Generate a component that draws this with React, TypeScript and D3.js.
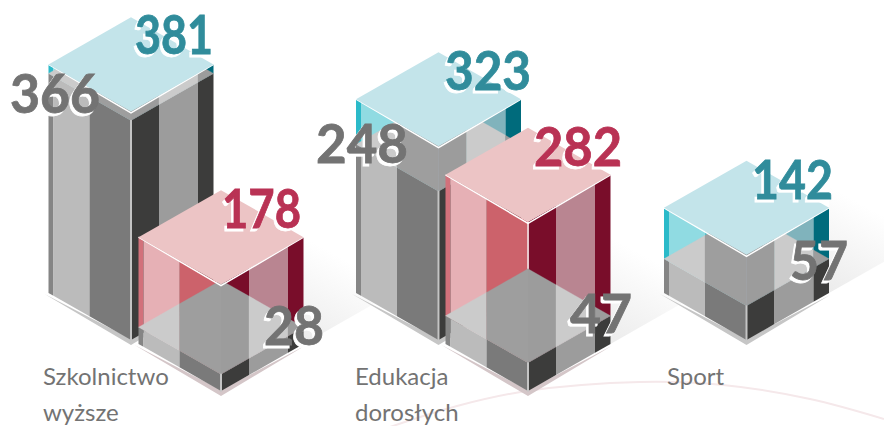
import React from "react";
import * as d3 from "d3";

// ---- data ----
const categories = [["Szkolnictwo", "wyższe"], ["Edukacja", "dorosłych"], ["Sport"]];
const grayBack = [366, 248, 57];
const tealBack = [381, 323, 142];
const grayFront = [28, 47];
const redFront = [178, 282];
const arcPath: [number, number][] = [[390, 427], [457, 406], [527, 391], [640, 382], [723, 385], [810, 399], [884, 419]];

// ---- layout ----
const W = 884, H = 426;
const w = 82.5, k = 0.57;
const backX = [131, 438.5, 746.5];
const frontX = [221, 528];
const backBase = 340, frontBase = 391;
const y = d3.scaleLinear().domain([0, 381]).range([0, 228.6]);
const FACE = [-82.5, -77.5, -41.5, 0, 28, 67, 82.5];
const TOP = [-82.5, -41.5, 0, 28, 67, 82.5];

const grayFaces = ["#858585", "#bbbbbb", "#7a7a7a", "#3c3c3b", "#9c9c9c", "#3c3c3b"];
const grayTop = ["#cbcbcb", "#9e9e9e", "#9c9c9c", "#cbcbcb", "#9c9c9c"];
const tealFaces = ["#2bbac9", "#90dbe2", "#52c0cc", "#006b7c", "#80b3bc", "#006b7c"];
const redFaces = ["#d2717b", "#e6b0b5", "#cc626b", "#790d2a", "#b98591", "#790d2a"];

const lowY = (f: number, d: number) => f - Math.abs(d) * k;
const upY = (f: number, d: number) => f - 2 * w * k + Math.abs(d) * k;
const line = d3.line();

function Faces({ cx, top, bottom, faces }: any) {
  return (
    <g>
      {faces.map((c: string, i: number) => {
        const a = FACE[i], b = FACE[i + 1];
        return <path key={i} fill={c} d={line([[cx + a, lowY(top, a)], [cx + b, lowY(top, b)], [cx + b, lowY(bottom, b)], [cx + a, lowY(bottom, a)]])! + "Z"} />;
      })}
    </g>
  );
}

function StripedTop({ cx, f, colors }: any) {
  return (
    <g>
      {colors.map((c: string, i: number) => {
        const a = TOP[i], b = TOP[i + 1];
        return <path key={i} fill={c} stroke={c} strokeWidth={0.3} d={line([[cx + a, lowY(f, a)], [cx + b, lowY(f, b)], [cx + b, upY(f, b)], [cx + a, upY(f, a)]])! + "Z"} />;
      })}
    </g>
  );
}

function Diamond({ cx, f, fill, edge }: any) {
  return (
    <g>
      <path d={line([[cx - w, f - w * k], [cx, f + 1.5], [cx + w, f - w * k]])!} fill="none" stroke={edge} strokeWidth={1.5} />
      <path d={line([[cx - w, f - w * k], [cx, f], [cx + w, f - w * k], [cx, f - 2 * w * k]])! + "Z"} fill={fill} />
    </g>
  );
}

function Pair({ cx, base, gray, color, faces, topFill, rim, edge }: any) {
  const fg = base - y(gray), fc = base - y(color);
  return (
    <g>
      <path d={line([[cx - w - 4, base - w * k + 1], [cx, base + 5], [cx + w + 1, base - w * k + 2], [cx, base - 1]])! + "Z"} fill={rim} />
      <Faces cx={cx} top={fc} bottom={fg} faces={faces} />
      <rect x={cx - 1} y={fc} width={2} height={fg - fc} fill={edge} />
      <Faces cx={cx} top={fg} bottom={base} faces={grayFaces} />
      <StripedTop cx={cx} f={fg} colors={grayTop} />
      <rect x={cx - 1} y={fg - 0.5} width={2} height={base - fg + 1} fill="#c4c4c4" />
      <Diamond cx={cx} f={fc} fill={topFill} edge="#ffffff" />
    </g>
  );
}

function Num({ x, base, len, text, fill }: any) {
  const common = { fontFamily: "Lato, sans-serif", fontWeight: 700, fontSize: 53, textLength: len, lengthAdjust: "spacingAndGlyphs" } as any;
  return (
    <g>
      <text {...common} x={x - 2.5} y={base + 2.5} fill="#ffffff" stroke="#ffffff" strokeWidth={0.8}>{text}</text>
      <text {...common} x={x} y={base} fill={fill} stroke={fill} strokeWidth={0.8}>{text}</text>
    </g>
  );
}

const GRAY = "#737373", TEAL = "#308c9b", RED = "#b93254";

export default function App() {
  const shadowCorners: [number, number, number][] = [
    [frontX[0] + w, frontBase - w * k, 75],
    [frontX[1] + w, frontBase - w * k, 75],
    [backX[2] + w, backBase - w * k, 120],
  ];
  const arc = d3.line().curve(d3.curveCatmullRom)(arcPath)!;
  return (
    <svg width={W} height={H} viewBox={`0 0 ${W} ${H}`} style={{ position: "absolute", left: 0, top: 0, background: "#fff" }}>
      <defs>
        {shadowCorners.map(([sx, sy], i) => (
          <linearGradient key={i} id={`sh${i}`} gradientUnits="userSpaceOnUse" x1={sx - 10} y1={sy + 6} x2={sx + 40} y2={sy - 85}>
            <stop offset="0" stopColor="#d8d8d8" stopOpacity={0.55} />
            <stop offset="1" stopColor="#d8d8d8" stopOpacity={0} />
          </linearGradient>
        ))}
      </defs>
      <path d={arc} fill="none" stroke="#f5e8ea" strokeWidth={2} />
      {shadowCorners.map(([sx, sy, l], i) => (
        <path key={i} fill={`url(#sh${i})`} d={line([[sx, sy], [sx + l, sy - l * k], [sx + l, sy - l * k - 90], [sx, sy - 110]])! + "Z"} />
      ))}

      <Pair cx={backX[0]} base={backBase} gray={grayBack[0]} color={tealBack[0]} faces={tealFaces} topFill="#c3e4ea" rim="#c6c6c6" edge="#bcd" />
      <Pair cx={frontX[0]} base={frontBase} gray={grayFront[0]} color={redFront[0]} faces={redFaces} topFill="#ecc4c5" rim="#d4c6c8" edge="#e8c8cc" />
      <Pair cx={backX[1]} base={backBase} gray={grayBack[1]} color={tealBack[1]} faces={tealFaces} topFill="#c3e4ea" rim="#c6c6c6" edge="#bcd" />
      <Pair cx={frontX[1]} base={frontBase} gray={grayFront[1]} color={redFront[1]} faces={redFaces} topFill="#ecc4c5" rim="#d4c6c8" edge="#e8c8cc" />
      <Pair cx={backX[2]} base={backBase} gray={grayBack[2]} color={tealBack[2]} faces={tealFaces} topFill="#c3e4ea" rim="#c6c6c6" edge="#bcd" />

      <Num x={135} base={54} len={78} text={tealBack[0]} fill={TEAL} />
      <Num x={10} base={113} len={90} text={grayBack[0]} fill={GRAY} />
      <Num x={222} base={228} len={79} text={redFront[0]} fill={RED} />
      <Num x={264} base={345} len={60} text={grayFront[0]} fill={GRAY} />
      <Num x={445} base={90} len={86} text={tealBack[1]} fill={TEAL} />
      <Num x={316} base={163} len={92} text={grayBack[1]} fill={GRAY} />
      <Num x={534} base={166} len={88} text={redFront[1]} fill={RED} />
      <Num x={570} base={333} len={62} text={grayFront[1]} fill={GRAY} />
      <Num x={752} base={199} len={81} text={tealBack[2]} fill={TEAL} />
      <Num x={790} base={280} len={58} text={grayBack[2]} fill={GRAY} />

      {categories.map((lines, i) => lines.map((t, j) => (
        <text key={`${i}-${j}`} x={[43, 355, 667][i]} y={385 + j * 36} fontFamily="Lato, sans-serif" fontSize={24} fill="#737373">{t}</text>
      )))}
    </svg>
  );
}
